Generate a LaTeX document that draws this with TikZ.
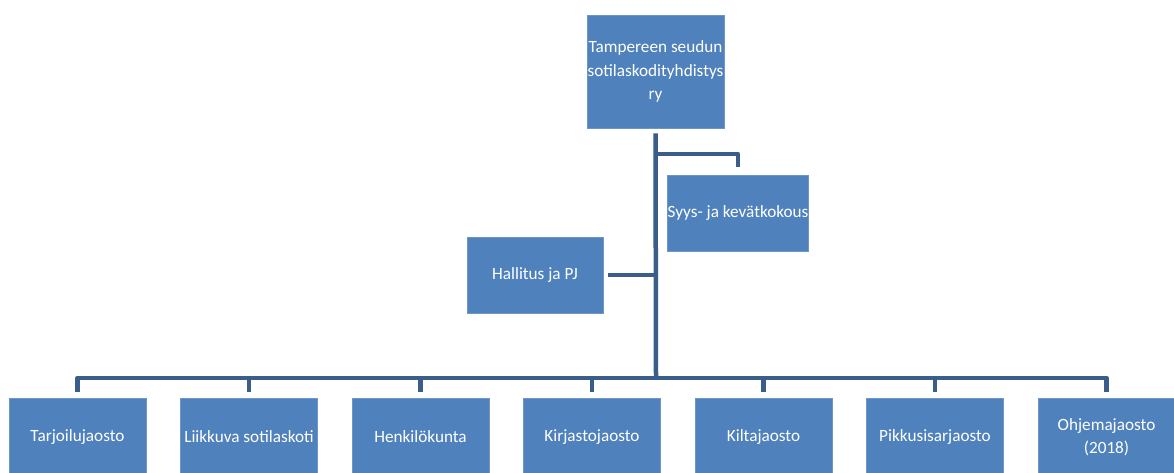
\documentclass[tikz,border=0pt]{standalone}
\usepackage{fontspec}
\setmainfont{Carlito}
\definecolor{boxblue}{RGB}{79,129,189}
\definecolor{boxedge}{RGB}{110,150,200}
\definecolor{linkblue}{RGB}{58,93,138}
\tikzset{
  orgbox/.style={rectangle, fill=boxblue, draw=boxedge, line width=0.6pt, inner sep=0pt,
    minimum width=137pt, text=white, align=center,
    font=\fontsize{17.2}{23.5}\selectfont},
  conn/.style={draw=linkblue, line width=4.5pt, line join=round, line cap=butt},
}
\begin{document}
\begin{tikzpicture}[x=1pt,y=-1pt]
\useasboundingbox (0,0) rectangle (1174,473);
\clip (0,0) rectangle (1174,473);
\fill[white] (0,0) rectangle (1174,473);

% top
\node[orgbox, minimum height=113pt] (top) at (655.5,71.5) {Tampereen seudun\\sotilaskodityhdistys\\ry};
\node[orgbox, minimum width=138pt, minimum height=76pt] (syys) at (738,213) {Syys- ja kevätkokous};
\node[orgbox, minimum width=136pt, minimum height=76pt] (hall) at (535,275) {Hallitus ja PJ};

% bottom row
\node[orgbox, minimum height=78pt] (b1) at (77.5,437) {Tarjoilujaosto};
\node[orgbox, minimum height=78pt] (b2) at (249,437) {Liikkuva sotilaskoti};
\node[orgbox, minimum height=78pt] (b3) at (420.5,437) {Henkilökunta};
\node[orgbox, minimum height=78pt] (b4) at (592,437) {Kirjastojaosto};
\node[orgbox, minimum height=78pt] (b5) at (763.5,437) {Kiltajaosto};
\node[orgbox, minimum height=78pt] (b6) at (935,437) {Pikkusisarjaosto};
\node[orgbox, minimum height=78pt] (b7) at (1106.5,437) {Ohjemajaosto\\(2018)};

% connectors
\coordinate (bus) at (656,378);
\coordinate (j1) at (656,154);
\draw[conn, shorten <=5pt] (top.south) -- (bus);
\draw[conn, shorten >=8pt] (j1) -| (syys.north);
\draw[conn, shorten <=5pt] (hall.east) -- (hall.east -| bus);
\draw[conn] (b1.north) ++(0,-6) |- (bus);
\draw[conn] (b7.north) ++(0,-6) |- (bus);
\foreach \b in {b2,b3,b4,b5,b6}{
  \draw[conn, shorten <=6pt] (\b.north) -- (\b.north |- bus);
}
\end{tikzpicture}
\end{document}
